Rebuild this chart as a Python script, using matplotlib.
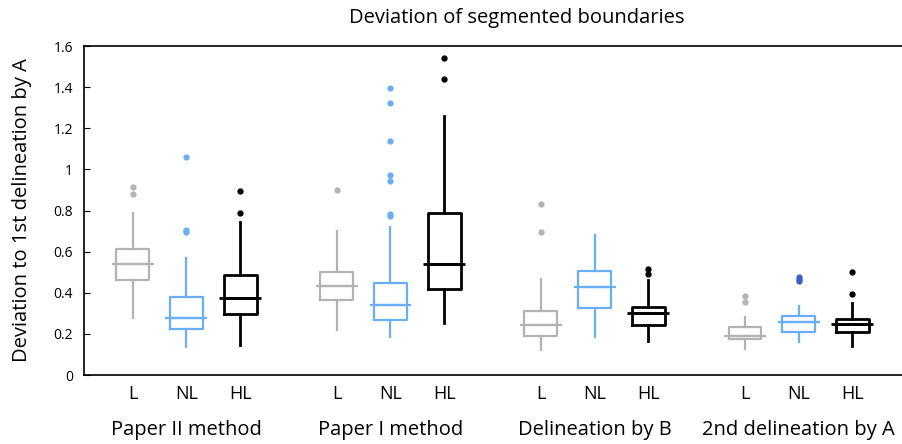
import matplotlib
matplotlib.use('Agg')
import matplotlib.pyplot as plt
import matplotlib.transforms as mtransforms

plt.rcParams['font.family'] = ['Open Sans', 'DejaVu Sans']

groups = ['Paper II method', 'Paper I method', 'Delineation by B', '2nd delineation by A']
kinds = ['L', 'NL', 'HL']
colors = ['#b3b3b3', '#6aaef5', '#000000']

# whisker low, box low, median, box high, whisker high  (per group, per kind)
whislo = [[0.279, 0.138, 0.146], [0.219, 0.186, 0.251], [0.122, 0.185, 0.167], [0.128, 0.162, 0.141]]
q1 = [[0.462, 0.224, 0.297], [0.363, 0.267, 0.420], [0.190, 0.324, 0.242], [0.173, 0.211, 0.211]]
med = [[0.541, 0.277, 0.373], [0.434, 0.340, 0.541], [0.242, 0.426, 0.300], [0.191, 0.258, 0.250]]
q3 = [[0.613, 0.381, 0.485], [0.499, 0.447, 0.790], [0.311, 0.507, 0.332], [0.235, 0.287, 0.274]]
whishi = [[0.790, 0.567, 0.743], [0.700, 0.721, 1.260], [0.465, 0.681, 0.462], [0.284, 0.337, 0.352]]
fliers = [
    [[0.916, 0.879], [1.062, 0.705, 0.694], [0.897, 0.790]],
    [[0.898], [1.398, 1.323, 1.138, 0.971, 0.942, 0.783, 0.772], [1.540, 1.440]],
    [[0.830, 0.694], [], [0.514, 0.491]],
    [[0.384, 0.357], [0.475, 0.465, 0.455], [0.503, 0.394]],
]
flier_colors = ['#b3b3b3', '#6aaef5', '#000000']

fig = plt.figure(figsize=(9.03, 4.44), dpi=100)
ax = fig.add_axes([84 / 903, 1 - 375 / 444, 1 - 84 / 903, (375 - 46) / 444])

group_step = 3.8
first = 0.907
tick_pos = []
tick_lab = []
for g in range(len(groups)):
    for k in range(3):
        pos = first + g * group_step + k
        st = {'whislo': whislo[g][k], 'q1': q1[g][k], 'med': med[g][k],
              'q3': q3[g][k], 'whishi': whishi[g][k], 'fliers': fliers[g][k]}
        c = colors[k]
        fc = '#3a5fc8' if (g == 3 and k == 1) else flier_colors[k]
        lw = 2.0 if k == 2 else 1.6
        ax.bxp([st], positions=[pos], widths=0.61, showcaps=False, manage_ticks=False,
               boxprops=dict(color=c, linewidth=lw),
               whiskerprops=dict(color=c, linewidth=lw),
               medianprops=dict(color=c, linewidth=lw),
               flierprops=dict(marker='o', markersize=3.5, markerfacecolor=fc,
                               markeredgecolor=fc, linestyle='none'))
        # wider median line
        ax.plot([pos - 0.39, pos + 0.39], [med[g][k]] * 2, color=c, linewidth=lw,
                solid_capstyle='butt')
        tick_pos.append(pos)
        tick_lab.append(kinds[k])

ax.set_xlim(0, 15.25)
ax.set_ylim(0, 1.6)
ax.set_yticks([0, 0.2, 0.4, 0.6, 0.8, 1.0, 1.2, 1.4, 1.6])
ax.set_yticklabels(['0', '0.2', '0.4', '0.6', '0.8', '1', '1.2', '1.4', '1.6'])
ax.tick_params(axis='y', direction='in', length=4, labelsize=10, pad=8)
ax.set_xticks(tick_pos)
ax.set_xticklabels(tick_lab, fontsize=13)
ax.tick_params(axis='x', length=0, pad=7)
ax.spines['right'].set_visible(False)
for s in ['left', 'top', 'bottom']:
    ax.spines[s].set_linewidth(1.2)

trans = mtransforms.blended_transform_factory(ax.transData, fig.transFigure)
for g, name in enumerate(groups):
    ax.text(first + g * group_step + 1, 1 - 430 / 444, name, transform=trans,
            ha='center', va='center', fontsize=14.5)

ax.set_ylabel('Deviation to 1st delineation by A', fontsize=14.5, labelpad=15)
fig.text(517 / 903, 1 - 18 / 444, 'Deviation of segmented boundaries', ha='center', va='center',
         fontsize=14.5)

fig.savefig('out.png', dpi=100)
